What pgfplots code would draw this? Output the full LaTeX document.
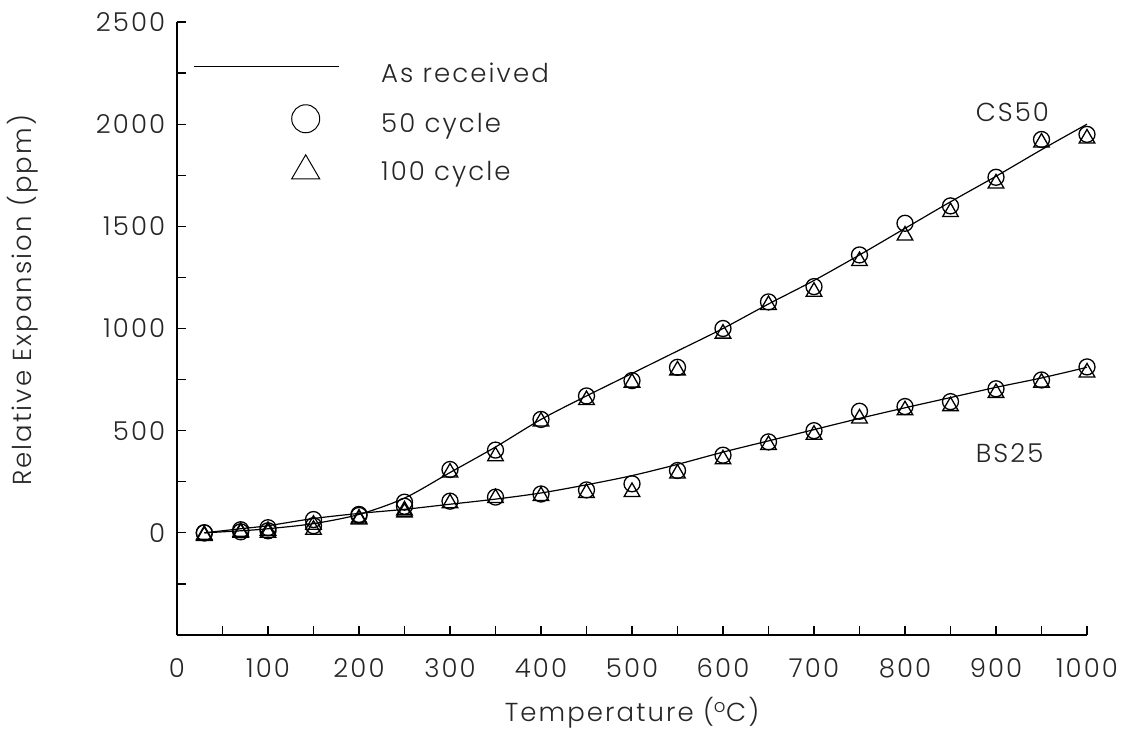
\documentclass[border=0pt]{standalone}
\usepackage{fontspec}
\setmainfont{Poppins Light}[LetterSpace=8]
\usepackage{pgfplots}
\pgfplotsset{compat=1.18}
\usepackage{pgfplotstable}

\pgfplotstableread{
T    line
30   0
70   10
100  20
150  45
200  90
250  170
300  295
350  420
400  555
450  670
500  780
550  890
600  1000
650  1120
700  1235
750  1360
800  1490
850  1620
900  1745
950  1875
1000 2000
}\csline

\pgfplotstableread{
T    c    t
30   0    -15
70   5    0
100  10   0
150  35   15
200  85   65
250  150  110
300  310  295
350  405  375
400  555  545
450  670  650
500  745  735
550  810  795
600  1000 975
650  1130 1115
700  1205 1180
750  1360 1330
800  1515 1455
850  1600 1570
900  1740 1710
950  1925 1910
1000 1950 1930
}\csmark

\pgfplotstableread{
T    line
30   0
70   20
100  35
150  70
200  95
250  115
300  140
350  165
400  195
450  235
500  280
550  335
600  395
650  450
700  505
750  560
800  612
850  662
900  712
950  758
1000 810
}\bsline

\pgfplotstableread{
T    c    t
30   0    -10
70   15   5
100  25   10
150  65   40
200  90   70
250  130  100
300  155  145
350  175  170
400  190  180
450  210  195
500  240  200
550  305  290
600  380  360
650  445  430
700  500  480
750  595  560
800  618  600
850  642  620
900  705  685
950  748  735
1000 812  785
}\bsmark

\begin{document}
\begin{tikzpicture}
\fontsize{26bp}{30bp}\selectfont
\useasboundingbox (-177bp,-101bp) rectangle (955bp,635bp);
\begin{axis}[
  at={(0,0)}, anchor=south west,
  scale only axis, width=910bp, height=613bp,
  xmin=0, xmax=1000, ymin=-500, ymax=2500,
  axis lines*=left,
  axis line style={line width=2.2bp},
  every tick/.style={black, line width=1.2bp},
  tick align=inside,
  major tick length=9bp, minor tick length=9bp,
  xtick={0,100,...,1000}, minor xtick={50,150,...,950},
  ytick={-500,0,500,1000,1500,2000,2500},
  yticklabels={,0,500,1000,1500,2000,2500},
  minor ytick={-250,250,750,1250,1750,2250},
  /pgf/number format/assume math mode=true,
  /pgf/number format/1000 sep={},
  tick label style={font=\fontsize{26bp}{30bp}\selectfont, text=black!85},
  xticklabel style={yshift=-15bp},
  yticklabel style={xshift=-3bp},
  xlabel={Temperature (\textsuperscript{o}C)},
  ylabel={Relative Expansion (ppm)},
  label style={font=\fontsize{26bp}{30bp}\selectfont, text=black!85},
  xlabel style={at={(axis description cs:0.5,-0.127)}, anchor=center},
  ylabel style={at={(axis description cs:-0.170,0.546)}, anchor=center},
  legend style={at={(axis description cs:0.0176,0.937)}, anchor=north west,
    draw=none, fill=none, inner sep=0pt, row sep=16bp,
    font=\fontsize{26bp}{30bp}\selectfont, text=black!85,
    /tikz/every odd column/.append style={column sep=40bp}},
  legend cell align=left,
]
\addlegendimage{legend image code/.code={\path[draw=none] (0bp,8bp) -- (145bp,8bp); \draw[black, line width=1bp] (0bp,8bp) -- (145bp,8bp);}}
\addlegendentry{As received}
\addlegendimage{legend image code/.code={\path[draw=none] (0bp,6bp) -- (145bp,6bp); \draw[black, line width=1bp] (112bp,6bp) circle (14bp);}}
\addlegendentry{50 cycle}
\addlegendimage{legend image code/.code={\path[draw=none] (0bp,6bp) -- (145bp,6bp); \draw[black, line width=1bp] (98bp,-6bp) -- (126bp,-6bp) -- (112bp,18bp) -- cycle;}}
\addlegendentry{100 cycle}

\addplot[black, line width=1.2bp, smooth, forget plot] table[x=T, y=line] {\csline};
\addplot[black, line width=1.2bp, smooth, forget plot] table[x=T, y=line] {\bsline};
\addplot[only marks, mark=o, mark size=8bp, mark options={black, line width=1.3bp}, forget plot] table[x=T, y=c] {\csmark};
\addplot[only marks, mark=triangle, mark size=9bp, mark options={black, line width=1.3bp}, forget plot] table[x=T, y=t] {\csmark};
\addplot[only marks, mark=o, mark size=8bp, mark options={black, line width=1.3bp}, forget plot] table[x=T, y=c] {\bsmark};
\addplot[only marks, mark=triangle, mark size=9bp, mark options={black, line width=1.3bp}, forget plot] table[x=T, y=t] {\bsmark};

\node[font=\fontsize{26bp}{30bp}\selectfont, text=black!85] at (axis cs:918,2060) {CS50};
\node[font=\fontsize{26bp}{30bp}\selectfont, text=black!85] at (axis cs:915,391) {BS25};
\end{axis}
\end{tikzpicture}
\end{document}
